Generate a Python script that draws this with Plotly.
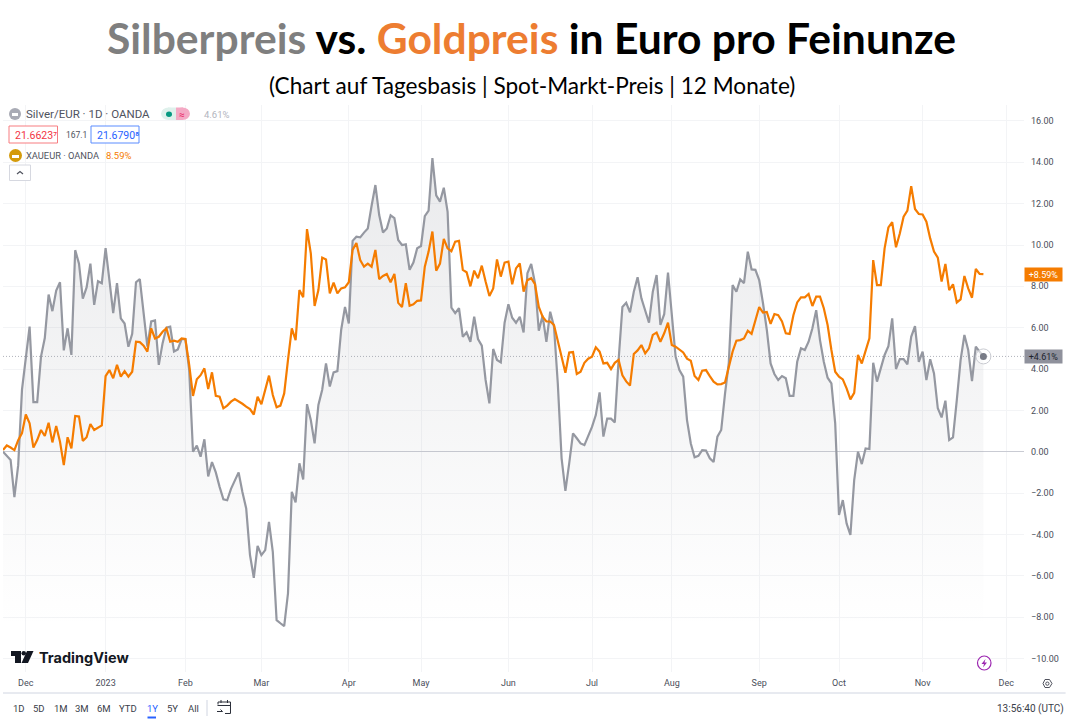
import pandas as pd
import plotly.graph_objects as go

# Daily percentage change against the first session, silver in euro
silver_pct = [
    0, -0.2, -0.4, -2.2, -0.65, 3.0, 4.5, 6.05, 2.4, 2.4,
    4.6, 5.5, 7.6, 6.8, 7.8, 8.2, 4.9, 5.97, 4.68, 9.75,
    9.1, 7.4, 7.95, 9.1, 7.1, 8.25, 8.15, 9.85, 8.3, 6.7,
    8.15, 6.45, 6.2, 5.08, 5.7, 8.2, 8.35, 6.7, 5.08, 6.3,
    6.35, 4.2, 5.25, 6.0, 6.05, 4.85, 4.95, 5.45, 5.45, 3.95,
    0.0, 0.3, -0.24, 0.6, -1.2, -0.5, -1.0, -1.7, -2.3, -2.35,
    -1.8, -1.4, -1.0, -1.95, -2.75, -5.0, -6.1, -4.56, -5.0, -4.76,
    -3.4, -4.84, -8.15, -8.3, -8.44, -6.85, -1.94, -2.45, -0.56, -1.34,
    2.3, 1.53, 0.4, 2.26, 3.0, 4.27, 3.15, 3.84, 3.9, 5.9,
    7.0, 6.2, 10.2, 10.4, 10.37, 10.6, 10.8, 11.9, 12.9, 11.45,
    10.6, 10.8, 11.44, 11.3, 10.24, 10.0, 10.03, 8.8, 9.15, 9.84,
    9.95, 11.4, 11.66, 14.2, 12.4, 12.1, 12.77, 11.6, 6.97, 6.7,
    6.94, 5.56, 5.77, 5.32, 6.53, 5.45, 5.13, 3.47, 2.34, 4.97,
    4.44, 4.32, 6.24, 7.13, 6.48, 6.24, 6.53, 5.77, 8.63, 9.08,
    8.15, 5.85, 6.58, 5.32, 6.77, 6.05, 3.3, -0.32, -1.9, -0.56,
    0.89, 0.65, 0.4, 0.32, 0.73, 1.2, 1.77, 2.87, 0.73, 1.6,
    1.6, 1.42, 4.43, 7.0, 7.2, 6.74, 7.74, 8.44, 7.42, 6.85,
    6.24, 7.74, 8.55, 6.13, 6.65, 8.66, 6.77, 4.6, 3.95, 3.63,
    1.53, 0.4, -0.27, -0.2, 0.08, 0.06, -0.32, -0.5, 0.73, 1.05,
    2.8, 4.3, 8.06, 7.74, 8.34, 8.15, 9.68, 8.82, 8.8, 8.3,
    7.18, 5.9, 4.27, 3.76, 3.47, 3.66, 3.55, 2.7, 2.7, 4.35,
    5.0, 4.92, 5.32, 5.97, 6.85, 5.4, 4.35, 3.58, 3.3, 1.37,
    -3.06, -2.34, -3.47, -4.03, -1.37, 0, -0.6, 0.16, 0.13, 4.3,
    3.39, 4.03, 4.68, 5.1, 6.45, 4.0, 4.48, 4.48, 4.23, 5.56,
    6.08, 4.35, 4.84, 3.47, 4.47, 3.79, 2.1, 1.66, 2.47, 0.56,
    0.69, 2.5, 4.43, 5.65, 4.92, 3.42, 5.08, 4.84, 4.61,
]

# Same measure for gold (XAU/EUR)
gold_pct = [
    0.08, 0.3, 0.2, 0.08, 0.56, 0.9, 1.8, 1.37, 0.2, 0.56,
    1.05, 0.76, 1.4, 0.45, 1.24, 0.48, -0.65, 0.7, 0.16, 1.73,
    1.7, 0.52, 0.7, 1.34, 1.05, 1.18, 1.27, 3.66, 3.95, 3.55,
    4.2, 3.63, 3.9, 3.63, 3.87, 5.32, 5.3, 5.13, 4.84, 5.97,
    5.48, 5.56, 5.8, 5.97, 5.32, 5.37, 5.32, 5.48, 5.45, 4.2,
    2.7, 3.5, 3.7, 4.03, 3.03, 3.84, 2.7, 2.66, 2.1, 2.23,
    2.42, 2.55, 2.45, 2.32, 2.18, 2.06, 1.8, 2.66, 2.3, 3.0,
    3.68, 2.74, 2.15, 2.23, 2.82, 4.44, 5.97, 5.4, 7.82, 7.47,
    10.77, 9.6, 7.05, 7.82, 9.39, 9.3, 7.66, 8.18, 7.66, 7.9,
    7.95, 8.2, 9.76, 10.1, 9.27, 8.95, 9.1, 8.95, 9.76, 8.35,
    8.5, 8.6, 8.2, 8.6, 7.2, 7.0, 8.15, 7.06, 7.13, 7.3,
    7.32, 8.95, 9.68, 10.65, 8.76, 9.1, 10.3, 9.84, 9.7, 10.16,
    10.2, 8.8, 8.68, 8.0, 8.76, 8.39, 9.0, 8.23, 7.53, 7.9,
    9.3, 8.47, 9.15, 9.2, 8.1, 8.87, 9.11, 7.74, 8.3, 8.39,
    8.1, 7.0, 6.53, 6.3, 6.3, 6.13, 5.32, 4.6, 3.82, 4.8,
    4.82, 3.76, 3.87, 4.3, 4.5, 4.6, 5.05, 4.84, 4.27, 4.3,
    4.0, 4.3, 4.44, 3.7, 3.4, 3.2, 4.73, 4.9, 5.16, 4.76,
    5.0, 5.65, 5.76, 5.32, 5.73, 6.24, 5.16, 5.08, 4.95, 4.8,
    4.5, 4.4, 3.66, 3.47, 3.92, 3.95, 3.66, 3.39, 3.26, 3.27,
    3.35, 4.03, 4.84, 5.37, 5.4, 5.48, 5.85, 5.7, 6.37, 7.0,
    6.73, 6.76, 6.18, 6.66, 6.6, 6.3, 5.73, 5.7, 6.6, 7.22,
    7.47, 7.47, 7.63, 7.05, 7.5, 7.5, 6.94, 6.13, 4.92, 3.87,
    3.63, 3.5, 3.06, 2.53, 2.85, 4.68, 4.27, 4.92, 5.48, 9.27,
    8.06, 8.06, 9.84, 10.85, 11.1, 9.89, 10.56, 11.37, 11.66, 12.85,
    11.74, 11.5, 11.48, 11.13, 10.32, 9.68, 9.39, 8.23, 9.08, 7.82,
    8.1, 7.22, 7.37, 8.5, 7.9, 7.45, 8.84, 8.6, 8.59,
]

# Trading calendar: weekdays minus market holidays, so the axis has no gaps
market_holidays = ["2022-12-26", "2023-01-02", "2023-04-07"]
sessions = pd.bdate_range("2022-11-23", "2023-12-01").difference(pd.to_datetime(market_holidays))

month_starts = ["2022-12-01", "2023-01-03", "2023-02-01", "2023-03-01", "2023-04-03", "2023-05-01",
                "2023-06-01", "2023-07-03", "2023-08-01", "2023-09-01", "2023-10-02", "2023-11-01", "2023-12-01"]
month_labels = ["Dec", "2023", "Feb", "Mar", "Apr", "May", "Jun", "Jul", "Aug", "Sep", "Oct", "Nov", "Dec"]
percent_ticks = list(range(-10, 17, 2))

range_buttons = [("1D", 19), ("5D", 39), ("1M", 61), ("3M", 82), ("6M", 104), ("YTD", 128), ("1Y", 152), ("5Y", 172), ("All", 193)]

SILVER = "#9598a1"
GOLD = "#f57c00"
GRID = "#f3f4f6"
UI_FONT = "Roboto"
TEXT = "#4a4e5a"

W, H = 1075, 720
LEFT, RIGHT, TOP, BOTTOM = 3, 1024, 105, 672


def px(x):
    return (x - LEFT) / (RIGHT - LEFT)


def py(y):
    return (BOTTOM - y) / (BOTTOM - TOP)


session_ids = list(range(len(silver_pct)))
tick_ids = [int(sessions.get_loc(pd.Timestamp(d))) for d in month_starts]

fig = go.Figure()
fig.add_trace(go.Scatter(x=session_ids, y=[min(silver_pct)] * len(silver_pct), mode="lines",
                         line=dict(width=0, color="rgba(0,0,0,0)"), hoverinfo="skip", showlegend=False))
fig.add_trace(go.Scatter(
    x=session_ids, y=silver_pct, mode="lines", name="Silver/EUR", showlegend=False,
    line=dict(color=SILVER, width=2.2), fill="tonexty",
    fillgradient=dict(type="vertical", start=min(silver_pct), stop=max(silver_pct),
                      colorscale=[[0, "rgba(149,152,161,0)"], [1, "rgba(149,152,161,0.2)"]]),
))
fig.add_trace(go.Scatter(x=session_ids, y=gold_pct, mode="lines", name="XAUEUR", showlegend=False,
                         line=dict(color=GOLD, width=2.2)))
fig.add_trace(go.Scatter(x=[session_ids[-1]], y=[silver_pct[-1]], mode="markers", showlegend=False, hoverinfo="skip",
                         marker=dict(size=15, color="rgba(255,255,255,0.6)", line=dict(color="#c9cbd1", width=1))))
fig.add_trace(go.Scatter(x=[session_ids[-1]], y=[silver_pct[-1]], mode="markers", showlegend=False, hoverinfo="skip",
                         marker=dict(size=7, color="#787b86")))

shapes = []
annotations = []


def label(x, y, text, size=9, color=TEXT, anchor="left", font=UI_FONT, **kw):
    annotations.append(dict(x=px(x), y=py(y), xref="paper", yref="paper", text=text, showarrow=False,
                            xanchor=anchor, yanchor="middle", borderpad=0,
                            font=dict(family=font, size=size, color=color), **kw))


def box(x0, y0, x1, y1, line="rgba(0,0,0,0)", fill="rgba(0,0,0,0)", width=1, kind="rect"):
    shapes.append(dict(type=kind, xref="paper", yref="paper", x0=px(x0), x1=px(x1), y0=py(y0), y1=py(y1),
                       line=dict(color=line, width=width), fillcolor=fill, layer="above"))


def path(points, fill="rgba(0,0,0,0)", line="rgba(0,0,0,0)", width=1, closed=True):
    d = "M" + " L".join(f"{px(x):.5f},{py(y):.5f}" for x, y in points) + (" Z" if closed else "")
    shapes.append(dict(type="path", xref="paper", yref="paper", path=d, fillcolor=fill,
                       line=dict(color=line, width=width), layer="above"))


# Headline and subtitle
label(531.5, 37, "<b><span style='color:#7f7f7f'>Silberpreis</span> vs. <span style='color:#ed7d31'>Goldpreis</span>"
      " in Euro pro Feinunze</b>", size=42.6, color="#000000", anchor="center", font="Lato")
label(532, 86, "(Chart auf Tagesbasis | Spot-Markt-Preis | 12 Monate)", size=22.6, color="#000000",
      anchor="center", font="Lato")

# Symbol legend block
box(9, 108, 21, 120, fill="#a9abb5", kind="circle")
box(12, 113, 18, 116, fill="#ffffff")
label(25, 114, "Silver/EUR · 1D · OANDA", size=11.5, color="#50535e")
box(161, 107.5, 176, 120, fill="#dff1ec", kind="circle")
box(175, 107.5, 190, 120, fill="#f4a9c4", kind="circle")
box(168, 107.5, 176, 120, fill="#dff1ec")
box(176, 107.5, 183, 120, fill="#f4a9c4")
box(166, 111.5, 172, 117, fill="#089981", kind="circle")
label(182, 114, "≈", size=10, color="#e91e63", anchor="center")
label(203, 114, "4.61%", size=9.5, color="#b2b5be")
box(9, 126, 57.5, 143, line="#f77c80", fill="#ffffff")
label(14, 135, "21.6623⁷", size=10.5, color="#f23645")
label(64.5, 135, "167.1", size=8.5, color="#50535e")
box(91, 126, 139, 143, line="#5b8cff", fill="#ffffff")
label(96, 135, "21.6790⁸", size=10.5, color="#2962ff")
box(9, 149, 22, 162, fill="#d49b0b", kind="circle")
box(12, 155, 19, 158, fill="#ffffff")
label(25, 155, "XAUEUR · OANDA", size=9.3, color="#50535e")
label(105, 155, "8.59%", size=9.5, color=GOLD)
box(9.5, 165, 30.5, 180.5, line="#d6d8e0", fill="#ffffff")
path([(17, 174), (20, 171.5), (23, 174)], line="#50535e", width=1.2, closed=False)

# Price scale tags for the last values
for value, bg, fg in [(gold_pct[-1], GOLD, "#ffffff"), (silver_pct[-1], "#8f919c", "#20232c")]:
    annotations.append(dict(x=1, y=value, xref="paper", yref="y", text=f"+{value:.2f}%", showarrow=False,
                            xanchor="left", yanchor="middle", width=37, height=13, bgcolor=bg, align="center",
                            borderpad=0, font=dict(family=UI_FONT, size=9, color=fg)))
shapes.append(dict(type="line", xref="paper", yref="y", x0=0, x1=1, y0=silver_pct[-1], y1=silver_pct[-1],
                   line=dict(color="#b0b3ba", width=1, dash="1px,2px"), layer="below"))

# TradingView wordmark
path([(11, 651), (21, 651), (21, 663), (15, 663), (15, 656), (11, 656)], fill="#131722")
box(21.5, 651, 26, 655.5, fill="#131722", kind="circle")
path([(27, 651), (33.5, 651), (28, 663), (21.5, 663)], fill="#131722")
label(38, 657.5, "<b>TradingView</b>", size=14.5, color="#131722", font="Inter")

# Bottom toolbar
box(3, 693, 1065.5, 693, line="#e0e3eb")
for text, x in range_buttons:
    active = text == "1Y"
    label(x, 708.5, text, size=9.5, color="#2962ff" if active else "#3a3e4a", anchor="center")
box(147.5, 716.5, 156, 718.5, fill="#2962ff")
box(207, 700, 207, 716, line="#e0e3eb")
path([(218, 704.5), (218, 702), (230.5, 702), (230.5, 713.5), (225, 713.5)], line="#2a2e39", width=1, closed=False)
path([(217.5, 705.5), (230.5, 705.5)], line="#2a2e39", width=1, closed=False)
path([(221, 700), (221, 703)], line="#2a2e39", width=1, closed=False)
path([(227.5, 700), (227.5, 703)], line="#2a2e39", width=1, closed=False)
path([(217, 711.5), (222.5, 711.5), (220.5, 709.5)], line="#2a2e39", width=1, closed=False)
label(1065, 708.5, "13:56:40 (UTC)", size=10, color="#3a3e4a", anchor="right")

# Settings gear and lightning badge
path([(1043, 683.5), (1045, 679.5), (1049.5, 679.5), (1052, 683.5), (1049.5, 687.5), (1045, 687.5)],
     line="#50535e", width=1)
box(1045.7, 682, 1049, 685.3, line="#50535e", kind="circle")
box(977.5, 656, 991, 670, line="#9c27b0", width=1.2, fill="#ffffff", kind="circle")
path([(985.5, 659), (981.5, 664), (984, 664), (983, 667.5), (987, 662.5), (984.5, 662.5)], fill="#9c27b0")

fig.update_layout(
    width=W, height=H, margin=dict(l=LEFT, r=W - RIGHT, t=TOP, b=H - BOTTOM, autoexpand=False),
    paper_bgcolor="#ffffff", plot_bgcolor="#ffffff", showlegend=False,
    shapes=shapes, annotations=annotations,
    xaxis=dict(range=[0, (RIGHT - LEFT) / 3.8], tickmode="array", tickvals=tick_ids, ticktext=month_labels,
               showgrid=True, gridcolor=GRID, gridwidth=1, zeroline=False, showline=False, ticks="",
               ticklabelstandoff=4, tickfont=dict(family=UI_FONT, size=9, color=TEXT)),
    yaxis=dict(side="right", range=[(451.7 - BOTTOM) / 20.67, (451.7 - TOP) / 20.67], tickmode="array",
               tickvals=percent_ticks, tickformat=".2f", ticksuffix="%",
               showgrid=True, gridcolor=GRID, gridwidth=1, zeroline=True, zerolinecolor="#c9cbd3", zerolinewidth=1,
               showline=False, ticks="", ticklabelstandoff=6, tickfont=dict(family=UI_FONT, size=9, color=TEXT)),
)

fig.write_html("out.html")
